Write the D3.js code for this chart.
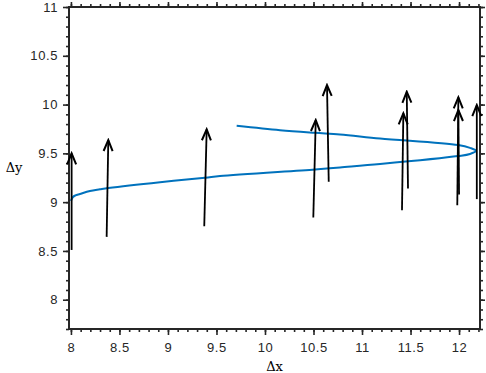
<!DOCTYPE html>
<html>
<head>
<meta charset="utf-8">
<script src="https://cdn.jsdelivr.net/npm/d3@7"></script>
<style>
  html, body { margin: 0; padding: 0; background: #fff; }
  .tick text { font-family: "Liberation Sans", Arial, sans-serif; font-size: 13px; fill: #262626; letter-spacing: 0.6px; }
  .lbl { font-family: "DejaVu Serif", serif; font-size: 13px; fill: #000; }
</style>
</head>
<body>
<svg id="chart" width="486" height="373"></svg>
<script>
// curve: lower branch then upper branch
var curveX = [8.0, 8.021, 8.046, 8.093, 8.196, 8.299, 8.385, 8.918, 9.381, 9.536, 10.515, 10.773, 11.186, 11.99, 12.113, 12.175,
              12.113, 11.99, 11.186, 10.773, 10.515, 10.155, 9.708];
var curveY = [9.012, 9.053, 9.069, 9.084, 9.115, 9.132, 9.145, 9.205, 9.249, 9.267, 9.335, 9.356, 9.39, 9.472, 9.494, 9.526,
              9.556, 9.585, 9.653, 9.694, 9.711, 9.738, 9.783];

// arrows: tail (x0,y0) -> head (x1,y1)
var arrowX0 = [8.007, 8.368, 9.374, 10.498, 10.657, 11.412, 11.474, 11.982, 12.0, 12.183];
var arrowY0 = [8.51, 8.644, 8.754, 8.843, 9.208, 8.918, 9.14, 8.969, 9.079, 9.031];
var arrowX1 = [8.007, 8.385, 9.399, 10.523, 10.639, 11.426, 11.461, 11.993, 11.993, 12.183];
var arrowY1 = [9.50, 9.636, 9.746, 9.841, 10.2, 9.91, 10.131, 10.074, 9.944, 9.995];

var xTicks = [8, 8.5, 9, 9.5, 10, 10.5, 11, 11.5, 12];
var yTicks = [8, 8.5, 9, 9.5, 10, 10.5, 11];

var margin = {top: 7, right: 6, bottom: 44, left: 69};
var W = 486, H = 373;
var svg = d3.select("#chart");

var x = d3.scaleLinear().domain([7.98, 12.216]).range([margin.left, W - margin.right]);
var y = d3.scaleLinear().domain([7.7, 11]).range([H - margin.bottom, margin.top]);

var minorX = d3.range(80, 123).map(function(d) { return d / 10; });
var minorY = d3.range(77, 111).map(function(d) { return d / 10; });

var axisColor = "#262626";

function styleAxis(g) {
  g.select(".domain").remove();
  g.selectAll(".tick line").attr("stroke", axisColor).attr("stroke-width", 1.6);
}

// minor ticks
svg.append("g").attr("transform", "translate(0," + y.range()[0] + ")")
  .call(d3.axisBottom(x).tickValues(minorX).tickSize(3).tickFormat("")).call(styleAxis);
svg.append("g").attr("transform", "translate(0," + y.range()[1] + ")")
  .call(d3.axisTop(x).tickValues(minorX).tickSize(3).tickFormat("")).call(styleAxis);
svg.append("g").attr("transform", "translate(" + x.range()[0] + ",0)")
  .call(d3.axisLeft(y).tickValues(minorY).tickSize(3).tickFormat("")).call(styleAxis);
svg.append("g").attr("transform", "translate(" + x.range()[1] + ",0)")
  .call(d3.axisRight(y).tickValues(minorY).tickSize(3).tickFormat("")).call(styleAxis);

// major ticks
svg.append("g").attr("transform", "translate(0," + y.range()[0] + ")")
  .call(d3.axisBottom(x).tickValues(xTicks).tickSize(6).tickPadding(8).tickFormat(d3.format("")))
  .call(styleAxis);
svg.append("g").attr("transform", "translate(0," + y.range()[1] + ")")
  .call(d3.axisTop(x).tickValues(xTicks).tickSize(5).tickFormat("")).call(styleAxis);
svg.append("g").attr("transform", "translate(" + x.range()[0] + ",0)")
  .call(d3.axisLeft(y).tickValues(yTicks).tickSize(6).tickPadding(5).tickFormat(d3.format("")))
  .call(styleAxis);
svg.append("g").attr("transform", "translate(" + x.range()[1] + ",0)")
  .call(d3.axisRight(y).tickValues(yTicks).tickSize(5).tickFormat("")).call(styleAxis);

// box
svg.append("rect")
  .attr("x", x.range()[0]).attr("y", y.range()[1])
  .attr("width", x.range()[1] - x.range()[0]).attr("height", y.range()[0] - y.range()[1])
  .attr("fill", "none").attr("stroke", axisColor).attr("stroke-width", 2);

// curve
var pts = curveX.map(function(d, i) { return [d, curveY[i]]; });
svg.append("path")
  .datum(pts)
  .attr("fill", "none")
  .attr("stroke", "#0072BD")
  .attr("stroke-width", 2)
  .attr("d", d3.line().x(function(d) { return x(d[0]); }).y(function(d) { return y(d[1]); })
    .curve(d3.curveCatmullRom));

// arrows
var defs = svg.append("defs");
defs.append("marker")
  .attr("id", "head")
  .attr("viewBox", "-12 -6 14 12")
  .attr("markerUnits", "userSpaceOnUse")
  .attr("markerWidth", 14).attr("markerHeight", 12)
  .attr("refX", 0).attr("refY", 0)
  .attr("orient", "auto")
  .append("path")
  .attr("d", "M-11,-4.5L0,0L-11,4.5")
  .attr("fill", "none").attr("stroke", "#000").attr("stroke-width", 2);

svg.append("g").selectAll("line")
  .data(arrowX0.map(function(d, i) { return i; }))
  .join("line")
  .attr("x1", function(i) { return x(arrowX0[i]); })
  .attr("y1", function(i) { return y(arrowY0[i]); })
  .attr("x2", function(i) { return x(arrowX1[i]); })
  .attr("y2", function(i) { return y(arrowY1[i]); })
  .attr("stroke", "#000").attr("stroke-width", 1.8)
  .attr("marker-end", "url(#head)");

// axis labels
svg.append("text").attr("class", "lbl")
  .attr("x", (x.range()[0] + x.range()[1]) / 2).attr("y", 371)
  .attr("text-anchor", "middle").text("Δx");
svg.append("text").attr("class", "lbl")
  .attr("x", 14).attr("y", 172)
  .attr("text-anchor", "middle").text("Δy");
</script>
</body>
</html>
